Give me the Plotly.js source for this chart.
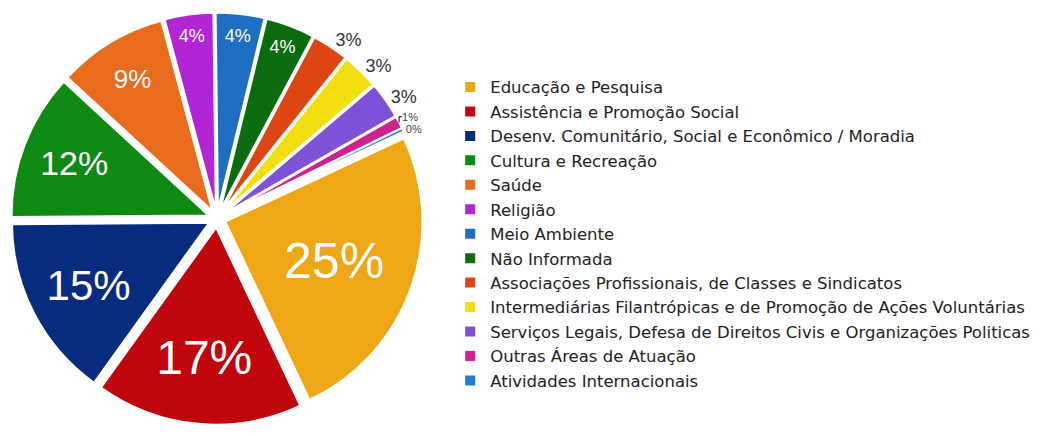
<!DOCTYPE html>
<html>
<head>
<meta charset="utf-8">
<script src="https://cdn.plot.ly/plotly-3.0.1.min.js"></script>
<style>html,body{margin:0;padding:0;background:#fff;}#chart{width:1047px;height:436px;}</style>
</head>
<body>
<div id="chart"></div>
<script>
const categories = [
  "Educação e Pesquisa",
  "Assistência e Promoção Social",
  "Desenv. Comunitário, Social e Econômico / Moradia",
  "Cultura e Recreação",
  "Saúde",
  "Religião",
  "Meio Ambiente",
  "Não Informada",
  "Associações Profissionais, de Classes e Sindicatos",
  "Intermediárias Filantrópicas e de Promoção de Ações Voluntárias",
  "Serviços Legais, Defesa de Direitos Civis e Organizações Politicas",
  "Outras Áreas de Atuação",
  "Atividades Internacionais"
];
const shares = [25, 17, 15, 12, 9, 4, 4, 4, 3, 3, 3, 1, 0.3];
const colors = ["#EFA716", "#C0050C", "#072B7E", "#0E8A12", "#E86B1E", "#B224D6", "#1E6EC4", "#0B6C0F", "#DD4512", "#F3DE12", "#7E52D6", "#CF2191", "#1F7FD6"];

const labelSizes = [50, 48, 42, 34, 26, 18, 18, 18, 18, 18, 18, 11, 11];
const labelColors = ["#fff","#fff","#fff","#fff","#fff","#fff","#fff","#fff","#333","#333","#333","#444","#444"];
const labelPos = ["inside","inside","inside","inside","inside","inside","inside","inside","outside","outside","outside","outside","outside"];

const trace = {
  type: "pie",
  labels: categories,
  values: shares,
  sort: false,
  direction: "clockwise",
  rotation: 65,
  pull: 0.045,
  marker: {colors: colors, line: {color: "#ffffff", width: 2}},
  texttemplate: "%{percent:.0%}",
  textposition: labelPos,
  insidetextorientation: "horizontal",
  textfont: {family: "Liberation Sans, Arial, sans-serif", size: labelSizes, color: labelColors},
  hoverinfo: "label+percent",
  domain: {x: [0.0105, 0.404], y: [0.025, 0.972]}
};

const layout = {
  width: 1047, height: 436,
  margin: {l: 0, r: 0, t: 0, b: 0},
  paper_bgcolor: "#fff",
  showlegend: true,
  legend: {
    x: 0.43, y: 0.84, xanchor: "left", yanchor: "top",
    font: {family: "DejaVu Sans", size: 16.5, color: "#222"},
    bgcolor: "rgba(0,0,0,0)"
  }
};

Plotly.newPlot("chart", [trace], layout, {displayModeBar: false, staticPlot: true});
</script>
</body>
</html>
